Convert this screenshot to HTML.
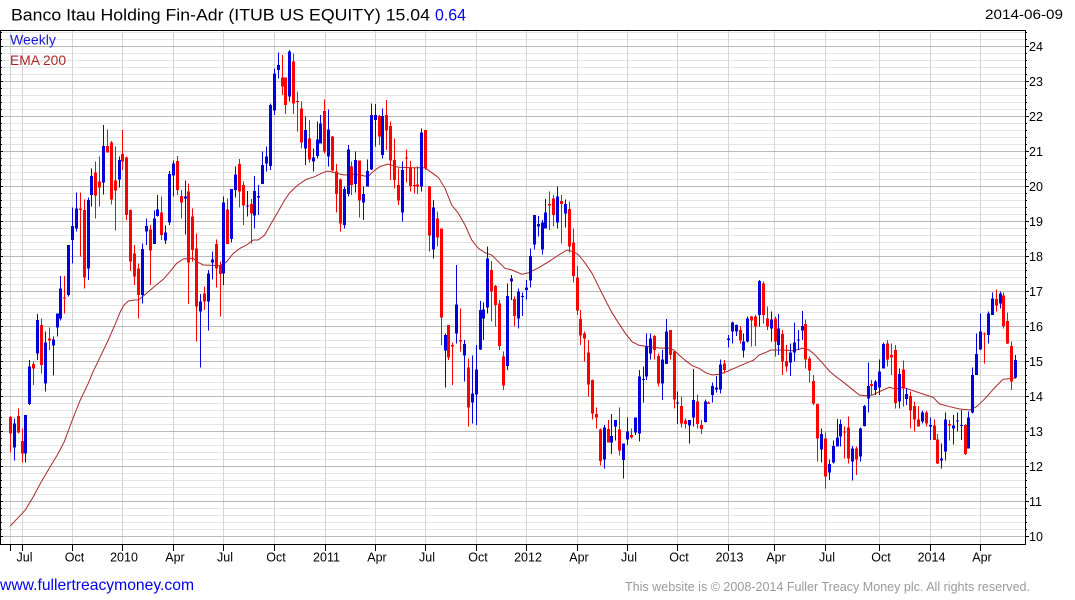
<!DOCTYPE html>
<html><head><meta charset="utf-8"><style>
html,body{margin:0;padding:0;background:#fff;width:1075px;height:600px;overflow:hidden}
svg{display:block;font-family:"Liberation Sans",Arial,sans-serif}
</style></head><body>
<svg width="1075" height="600" viewBox="0 0 1075 600" xmlns="http://www.w3.org/2000/svg">
<rect width="1075" height="600" fill="#fff"/>
<g shape-rendering="crispEdges" fill="none" stroke-width="1">
<path stroke="#e4e4e4" d="M1 529.5H1025M1 522.5H1025M1 515.5H1025M1 508.5H1025M1 494.5H1025M1 487.5H1025M1 480.5H1025M1 473.5H1025M1 459.5H1025M1 452.5H1025M1 445.5H1025M1 438.5H1025M1 424.5H1025M1 417.5H1025M1 410.5H1025M1 403.5H1025M1 389.5H1025M1 382.5H1025M1 375.5H1025M1 368.5H1025M1 354.5H1025M1 347.5H1025M1 340.5H1025M1 333.5H1025M1 319.5H1025M1 312.5H1025M1 305.5H1025M1 298.5H1025M1 284.5H1025M1 277.5H1025M1 270.5H1025M1 263.5H1025M1 249.5H1025M1 242.5H1025M1 235.5H1025M1 228.5H1025M1 214.5H1025M1 207.5H1025M1 200.5H1025M1 193.5H1025M1 179.5H1025M1 172.5H1025M1 165.5H1025M1 158.5H1025M1 144.5H1025M1 137.5H1025M1 130.5H1025M1 123.5H1025M1 109.5H1025M1 102.5H1025M1 95.5H1025M1 88.5H1025M1 74.5H1025M1 67.5H1025M1 60.5H1025M1 53.5H1025M1 39.5H1025M1 32.5H1025"/>
<path stroke="#d4d4d4" d="M10.5 31V544M22.5 31V544M72.5 31V544M122.5 31V544M173.5 31V544M223.5 31V544M274.5 31V544M325.5 31V544M375.5 31V544M425.5 31V544M476.5 31V544M526.5 31V544M577.5 31V544M627.5 31V544M677.5 31V544M728.5 31V544M774.5 31V544M825.5 31V544M879.5 31V544M930.5 31V544M980.5 31V544"/>
<path stroke="#bababa" d="M1 536.5H1025M1 501.5H1025M1 466.5H1025M1 431.5H1025M1 396.5H1025M1 361.5H1025M1 326.5H1025M1 291.5H1025M1 256.5H1025M1 221.5H1025M1 186.5H1025M1 151.5H1025M1 116.5H1025M1 81.5H1025M1 46.5H1025"/>
</g>
<polyline fill="none" stroke="#a82828" stroke-width="1" points="10.3,526 14.3,521.7 22.3,513.3 25.3,510 33.3,496.7 41.3,481.7 49.3,468.3 57.3,455 64.3,441.7 72.3,420 80.3,400 84.3,391.7 88.3,383.3 92.3,373.3 100.3,356.7 108.3,340 116.3,321.7 120.3,311.7 124,305 128.3,301 134.3,300 138.3,300 146.7,293.3 155,286 163.3,279.3 170,271.7 176.7,263.3 183.3,259 193.3,258.3 196.7,261.7 203.3,265 210,265.3 220,265.7 226.7,261.7 233.3,253.3 240,248.3 246.7,245 253.3,240 258,240 264.7,235 271.3,223.3 278,211.7 284.7,200 289.7,192.7 298,185 306.3,179.3 314.7,176.7 321.3,173.3 328,171 333,172.3 339.7,174 344.7,175 354.7,174.3 361.3,175.3 368,176.7 373,171.7 379.7,166.7 388,164 398.3,167.3 411.7,167.7 425,167.7 431.7,172.7 438.3,177.3 445,188.3 451.7,205 458.3,213.3 465,225 471.7,240 478.3,248.3 485,252.7 491.7,255 498.3,261.7 505,268.3 512,270 522,274.3 528.7,272.7 538.7,267.7 548.7,261.7 558.7,255 567,250 573.7,251.7 578.7,255 585.3,263.3 592,273.3 598.7,286.7 605.3,300 612,312.7 618.7,323.3 625.3,333.3 632,341.7 639,345.3 649,346.7 659,348 669,348.3 674,350 679,355 685.7,360.7 692.3,365.7 699,368.3 705.7,372.7 712.3,375 719,374.3 725.7,372 735.7,367.7 745.7,363.3 754,360 759,355 766,352.3 771,350 782.7,350 792.7,350.7 802.7,348.3 809.3,350 816,356 822.7,363.3 829.3,371 836,376.7 842.7,381.7 851,388.3 859.3,395 866,395.7 872.7,395 879.3,391.7 889.3,387.3 896,389 903,387.3 913,390.7 923,394 933,397.3 939.7,404 949.7,406.7 959.7,409 969.7,410 976.3,406.7 983,400.7 989.7,393.3 996.3,386 1003,379.3 1013,378.3 1016.3,377.7"/>
<g shape-rendering="crispEdges">
<path fill="none" stroke="#ff0000" stroke-width="1" d="M10.5 416V452.7M18.5 408.3V433.3M22.5 428.3V462.7M33.5 361.7V385M41.5 318.3V373.3M49.5 327.3V350M64.5 276V313.3M80.5 192.7V256.7M84.5 199.3V288.3M95.5 161.7V218.3M99.5 156.7V206.7M107.5 129.3V151.7M111.5 141V204.3M115.5 146.7V230.7M122.5 130V170M126.5 156.7V220M130.5 209.3V271M134.5 245V285M138.5 263.3V318.3M150.5 225V285M161.5 196.7V240M177.5 156V195M181.5 190V218.3M188.5 183.3V304M192.5 208.3V261.7M196.5 233.3V341.7M204.5 286.7V310M216.5 239.3V287.3M220.5 261.7V316.7M227.5 198.3V244M239.5 159V207.7M243.5 181.7V225M251.5 199V243.3M282.5 55V95M285.5 77.7V114M293.5 53.3V114M297.5 91.7V131.7M301.5 101.7V148.3M309.5 120V162.7M324.5 99.3V153.3M332.5 136V171.7M336.5 164V212.7M340.5 178.3V231.7M351.5 161.7V195M359.5 160.7V217.3M379.5 115V145M386.5 100V150M390.5 121.7V180M394.5 138.3V188.3M398.5 168.3V205M406.5 149.3V182.7M410.5 161V191.7M414.5 167.3V193.3M417.5 166.7V194M425.5 130V170M429.5 186V251.7M437.5 211.7V246.7M441.5 228.3V345M448.5 325V360M452.5 342.7V385M460.5 308.3V351.7M468.5 358.3V426.7M491.5 261V321.7M495.5 285V326.7M499.5 300V350M503.5 351.7V390M514.5 296.7V326M549.5 191.7V230M553.5 195V226.7M561.5 195V243.3M569.5 201.7V252.7M573.5 228.3V282.7M577.5 266V315M580.5 310V345M584.5 331.7V361.7M588.5 340V396.7M592.5 379.3V419.3M596.5 407.7V428.3M600.5 428.3V465.7M608.5 420V441.7M619.5 407.3V455.7M631.5 428.3V438.3M654.5 335V359.3M658.5 353.3V386.7M670.5 330V359.3M674.5 351V408.3M681.5 396.7V427.3M685.5 418.3V428.3M697.5 394.3V428.3M701.5 420V434M708.5 401.7V404M724.5 360V373.3M740.5 326V343.3M751.5 316V346.7M755.5 315V346M763.5 281.7V323.3M767.5 306.7V330M775.5 316.7V356.7M782.5 330V375M786.5 345V371.7M805.5 319.3V368.3M809.5 356.7V382.7M813.5 375V405M817.5 403.3V461.7M825.5 432.7V488.3M844.5 426.7V458.3M848.5 416.7V463.3M856.5 446.7V475M871.5 380V395M887.5 340V366.7M891.5 343.3V375M895.5 345V408.3M903.5 360.7V406.7M910.5 391.7V428.3M914.5 401.7V431.7M918.5 406V426.7M926.5 411V426.7M934.5 419.3V440M937.5 434V464M949.5 420V440.7M965.5 424V455M984.5 332.7V363.3M996.5 289.3V311.7M1003.5 292.3V328.3M1007.5 312.3V344M1011.5 341.7V390"/>
<path fill="#ff0000" d="M9 417h3V433.3h-3zM17 416h3V432.7h-3zM21 441h3V453.3h-3zM32 364h3V368.7h-3zM40 325h3V365h-3zM48 338.3h3V340.7h-3zM63 297.7h3V298.7h-3zM79 208.7h3V210h-3zM83 210h3V277.7h-3zM94 172.7h3V195.7h-3zM98 181.7h3V187.7h-3zM106 146h3V152.3h-3zM110 142.3h3V199.3h-3zM114 180.7h3V190.7h-3zM121 154h3V161.7h-3zM125 157.3h3V215h-3zM129 210h3V261.7h-3zM133 253.3h3V276.7h-3zM137 268.3h3V295h-3zM149 229.3h3V250.7h-3zM160 212.3h3V235h-3zM176 161h3V190h-3zM180 196h3V202.7h-3zM187 191.7h3V262.7h-3zM191 216.7h3V250h-3zM195 248.3h3V306.7h-3zM203 293.3h3V301.7h-3zM215 244h3V268.3h-3zM219 265h3V274h-3zM226 209.3h3V244h-3zM238 164h3V191.7h-3zM242 185h3V205.7h-3zM250 204h3V213.3h-3zM281 77.7h3V86.7h-3zM284 77.7h3V105h-3zM292 61.7h3V103.3h-3zM296 101h3V102h-3zM300 108.3h3V142.7h-3zM308 138.3h3V159.3h-3zM323 111h3V151.7h-3zM331 136.7h3V170.7h-3zM335 171.7h3V194h-3zM339 179.3h3V223.3h-3zM350 166.7h3V185h-3zM358 160.7h3V200.7h-3zM378 116h3V136.7h-3zM385 115h3V130.7h-3zM389 126h3V160.7h-3zM393 160h3V180h-3zM397 185h3V200.7h-3zM405 157.7h3V158.7h-3zM409 167.3h3V186h-3zM413 185h3V186h-3zM416 184.3h3V186.7h-3zM424 130h3V168.3h-3zM428 186.7h3V235.7h-3zM436 218.3h3V237.7h-3zM440 228.3h3V317.3h-3zM447 325h3V357.3h-3zM451 345h3V346.7h-3zM459 340h3V341.7h-3zM467 367.7h3V407.3h-3zM490 270h3V291.7h-3zM494 286h3V305h-3zM498 303.3h3V346h-3zM502 356.7h3V385.7h-3zM513 299h3V316h-3zM548 204h3V205.7h-3zM552 198.3h3V215h-3zM560 201h3V204h-3zM568 209h3V246.7h-3zM572 242.7h3V276h-3zM576 277.3h3V310.7h-3zM579 319h3V335.7h-3zM583 333.3h3V338.3h-3zM587 352.3h3V384.3h-3zM591 380h3V413.3h-3zM595 414h3V417.7h-3zM599 429.3h3V461h-3zM607 429h3V442.7h-3zM618 429.3h3V450.7h-3zM630 435h3V437.7h-3zM653 336h3V350h-3zM657 356h3V383.3h-3zM669 330h3V355h-3zM673 351.7h3V399.3h-3zM680 406h3V423.3h-3zM684 420.7h3V424h-3zM696 401.7h3V424h-3zM700 425h3V429h-3zM707 402.3h3V404h-3zM723 363.3h3V370h-3zM739 330h3V340.7h-3zM750 316.7h3V320.7h-3zM754 316.7h3V326.7h-3zM762 283.3h3V315h-3zM766 318.3h3V326.7h-3zM774 318.3h3V341.7h-3zM781 334h3V361.7h-3zM785 361h3V366.7h-3zM804 324h3V359.3h-3zM808 358.3h3V370.7h-3zM812 381h3V403.3h-3zM816 404h3V438.3h-3zM824 438.3h3V476.7h-3zM843 431.7h3V432.7h-3zM847 427.7h3V458.3h-3zM855 448.3h3V459.3h-3zM870 384h3V386h-3zM886 343.3h3V359.3h-3zM890 355h3V357.3h-3zM894 350h3V403h-3zM902 369.3h3V388.3h-3zM909 396h3V410.7h-3zM913 406h3V419.3h-3zM917 419.3h3V426.7h-3zM925 412.7h3V423.3h-3zM933 425.7h3V440h-3zM936 439.3h3V463.3h-3zM948 424h3V425.7h-3zM964 425h3V454h-3zM983 333.3h3V334.3h-3zM995 299h3V305.7h-3zM1002 295.7h3V326h-3zM1006 321h3V343.3h-3zM1010 346h3V381.7h-3z"/>
<path fill="none" stroke="#0000dc" stroke-width="1" d="M14.5 418.3V460.7M25.5 415V462.7M29.5 360V405M37.5 314V360M45.5 331.7V391.7M53.5 336.7V375.7M57.5 313.3V336.7M60.5 276V320.7M68.5 245V296.7M72.5 207.7V263.3M76.5 192.7V231.7M88.5 197.3V280M91.5 168.3V206.7M103.5 125V194.3M119.5 156.7V187.3M142.5 243.3V303.3M146.5 218.3V245M154.5 210.7V244M157.5 195V216.7M165.5 225.7V244M169.5 171V225M173.5 160.7V196.7M185.5 180.7V234.3M200.5 294V367.7M208.5 270V330.7M212.5 251.7V279.3M223.5 196.7V285M231.5 189V242.3M235.5 166.7V197.3M247.5 191V216.7M254.5 176V228.3M258.5 185V215M262.5 151.7V184M266.5 146.7V171.7M270.5 103.3V170M274.5 68.3V115M278.5 52.3V78.3M289.5 50V101.7M305.5 116.7V165M313.5 148.3V171.7M317.5 121.7V158.3M320.5 115V143.3M328.5 109.3V166.7M344.5 186.7V228.3M348.5 145V196.7M355.5 151.7V192.7M363.5 186.7V220M367.5 159.3V186.7M371.5 103.3V170M375.5 104V146.7M382.5 108.3V158.3M402.5 161.7V221.7M421.5 128.3V191.7M433.5 200V258.3M445.5 333.3V387.7M456.5 265V343.3M464.5 340V381.7M472.5 355.7V423.3M476.5 345V425M480.5 301V350M483.5 302.3V340M487.5 246.7V313.3M507.5 283.3V370M511.5 275V300M518.5 288.3V328.3M522.5 292.7V316M526.5 280V299.3M530.5 248.3V287.3M534.5 215V249.3M538.5 216V236.7M542.5 220V254.3M545.5 199V228.3M557.5 186.7V228.3M565.5 199.3V227.3M604.5 425V468.3M611.5 414V454M615.5 420V440.7M623.5 443.3V478.3M627.5 417.3V445M635.5 417.3V435M639.5 370V441.7M643.5 366.7V402.7M646.5 333.3V380M650.5 333.3V359.3M662.5 350V400M666.5 319V364M677.5 391.7V424M689.5 420V443.3M693.5 369V426.7M705.5 399.3V422.7M712.5 382.7V402.7M716.5 376V392.7M720.5 359.3V393.3M728.5 335V347.3M732.5 321.7V343.3M736.5 324.3V336M743.5 333.3V357.7M747.5 316.7V342.7M759.5 280V326.7M771.5 311.7V341.7M778.5 314V355M790.5 343.3V376M794.5 322.3V361.7M798.5 330V350M802.5 311V340M821.5 428.3V462.7M829.5 459.3V480M833.5 440.7V463.3M837.5 419V446.7M840.5 419.3V446.7M852.5 446V480.7M860.5 427.3V461.7M864.5 405V426.7M868.5 362.7V412.7M875.5 380V395M879.5 359.3V395M883.5 342.7V368.3M899.5 368.3V408.3M906.5 388.3V405M922.5 410.7V423.3M930.5 417.3V440M941.5 443.3V468.3M945.5 412.7V460.7M953.5 415V444.3M957.5 412.7V431.7M961.5 410V440M968.5 411.7V448.3M972.5 367.3V413.3M976.5 333.3V375M980.5 313.3V350M988.5 311.7V343.3M992.5 292.3V315M1000.5 291.7V308.3M1015.5 355V378.3"/>
<path fill="#0000dc" d="M13 423.3h3V447.3h-3zM24 415h3V453.3h-3zM28 366.7h3V404h-3zM36 320h3V353.3h-3zM44 342.3h3V383.3h-3zM52 339.3h3V345.7h-3zM56 313.3h3V327.3h-3zM59 288.3h3V318.3h-3zM67 245h3V295h-3zM71 226h3V240h-3zM75 208.3h3V228.3h-3zM87 200h3V268.7h-3zM90 176h3V195h-3zM102 146h3V182.7h-3zM118 160h3V179.3h-3zM141 249h3V295h-3zM145 226h3V231.7h-3zM153 218.3h3V244h-3zM156 209.3h3V216h-3zM164 232.3h3V240.7h-3zM168 174h3V222.7h-3zM172 163.3h3V175.7h-3zM184 196.7h3V198.7h-3zM199 301.7h3V311.7h-3zM207 273.3h3V301.7h-3zM211 259.3h3V262.7h-3zM222 202.3h3V273.3h-3zM230 189h3V239h-3zM234 174.3h3V190h-3zM246 205.7h3V206.7h-3zM253 191h3V215.7h-3zM257 196h3V197.5h-3zM261 165h3V184h-3zM265 156.7h3V163.3h-3zM269 105h3V166h-3zM273 73.3h3V110.7h-3zM277 65h3V70h-3zM288 51.7h3V96.7h-3zM304 130h3V148.3h-3zM312 157.3h3V161.7h-3zM316 139.3h3V156h-3zM319 123.3h3V143.3h-3zM327 129.3h3V156.7h-3zM343 189h3V225h-3zM347 149.3h3V194h-3zM354 160h3V184h-3zM362 194h3V202.7h-3zM366 171h3V186.7h-3zM370 115h3V169.3h-3zM374 115h3V120h-3zM381 116h3V155h-3zM401 170h3V212.7h-3zM420 132.7h3V186.7h-3zM432 207.7h3V249.3h-3zM444 335h3V350.7h-3zM455 304.3h3V333.3h-3zM463 344h3V355.7h-3zM471 393.3h3V402.7h-3zM475 369.3h3V394.3h-3zM479 310h3V349.3h-3zM482 309.3h3V318.3h-3zM486 258.3h3V307.7h-3zM506 296h3V366h-3zM510 278.3h3V281.7h-3zM517 291.7h3V318.3h-3zM521 296h3V297h-3zM525 287.7h3V290h-3zM529 256h3V280.7h-3zM533 215h3V244.3h-3zM537 224h3V226.7h-3zM541 222.7h3V249.3h-3zM544 212.3h3V228.3h-3zM556 196.7h3V222.7h-3zM564 204h3V213.3h-3zM603 427.3h3V459.3h-3zM610 436h3V442.7h-3zM614 420h3V426.7h-3zM622 443.3h3V460h-3zM626 431.7h3V439.3h-3zM634 417.3h3V432.7h-3zM638 376.7h3V433.3h-3zM642 379h3V380h-3zM645 346h3V376.7h-3zM649 338.3h3V353.3h-3zM661 359.3h3V383.3h-3zM665 331.7h3V364h-3zM676 402.3h3V403.3h-3zM688 420h3V425.7h-3zM692 400h3V417.7h-3zM704 401.7h3V422h-3zM711 386h3V395h-3zM715 387.7h3V389.3h-3zM719 364.3h3V389.3h-3zM727 338.3h3V340h-3zM731 322.3h3V331.7h-3zM735 325h3V331.7h-3zM742 341.7h3V350.7h-3zM746 318.3h3V341.7h-3zM758 281h3V315h-3zM770 319.3h3V328.3h-3zM777 328.3h3V345h-3zM789 352.7h3V362.7h-3zM793 342.3h3V352.7h-3zM797 339.3h3V340.7h-3zM801 326h3V330.7h-3zM820 434h3V449.3h-3zM828 464h3V472.3h-3zM832 446h3V462.7h-3zM836 437.7h3V446.7h-3zM839 424h3V436.7h-3zM851 448.3h3V461.7h-3zM859 428.3h3V456.7h-3zM863 406h3V426h-3zM867 386h3V398.3h-3zM874 381.7h3V390h-3zM878 371.7h3V387.3h-3zM882 344h3V368.3h-3zM898 374h3V401.7h-3zM905 394h3V399h-3zM921 412.7h3V421.7h-3zM929 425h3V426.7h-3zM940 458.3h3V460.7h-3zM944 419.3h3V451.7h-3zM952 425.7h3V428.3h-3zM956 420.7h3V421.7h-3zM960 425h3V426h-3zM967 417.7h3V448.3h-3zM971 375h3V412.7h-3zM975 354h3V375h-3zM979 331.7h3V349.3h-3zM987 313.3h3V335h-3zM991 298.3h3V315h-3zM999 293.3h3V303.3h-3zM1014 360h3V377.3h-3z"/>
</g>
<g shape-rendering="crispEdges" fill="none" stroke="#000" stroke-width="1">
<path d="M0.5 30.5H1025.5V544.5H0.5Z"/>
<path d="M1025 536.5h4M1025 501.5h4M1025 466.5h4M1025 431.5h4M1025 396.5h4M1025 361.5h4M1025 326.5h4M1025 291.5h4M1025 256.5h4M1025 221.5h4M1025 186.5h4M1025 151.5h4M1025 116.5h4M1025 81.5h4M1025 46.5h4"/>
<path d="M1025 529.5h2M1025 522.5h2M1025 515.5h2M1025 508.5h2M1025 494.5h2M1025 487.5h2M1025 480.5h2M1025 473.5h2M1025 459.5h2M1025 452.5h2M1025 445.5h2M1025 438.5h2M1025 424.5h2M1025 417.5h2M1025 410.5h2M1025 403.5h2M1025 389.5h2M1025 382.5h2M1025 375.5h2M1025 368.5h2M1025 354.5h2M1025 347.5h2M1025 340.5h2M1025 333.5h2M1025 319.5h2M1025 312.5h2M1025 305.5h2M1025 298.5h2M1025 284.5h2M1025 277.5h2M1025 270.5h2M1025 263.5h2M1025 249.5h2M1025 242.5h2M1025 235.5h2M1025 228.5h2M1025 214.5h2M1025 207.5h2M1025 200.5h2M1025 193.5h2M1025 179.5h2M1025 172.5h2M1025 165.5h2M1025 158.5h2M1025 144.5h2M1025 137.5h2M1025 130.5h2M1025 123.5h2M1025 109.5h2M1025 102.5h2M1025 95.5h2M1025 88.5h2M1025 74.5h2M1025 67.5h2M1025 60.5h2M1025 53.5h2M1025 39.5h2M1025 32.5h2"/>
<path d="M0 536.5h3M0 501.5h3M0 466.5h3M0 431.5h3M0 396.5h3M0 361.5h3M0 326.5h3M0 291.5h3M0 256.5h3M0 221.5h3M0 186.5h3M0 151.5h3M0 116.5h3M0 81.5h3M0 46.5h3M0 529.5h2M0 522.5h2M0 515.5h2M0 508.5h2M0 494.5h2M0 487.5h2M0 480.5h2M0 473.5h2M0 459.5h2M0 452.5h2M0 445.5h2M0 438.5h2M0 424.5h2M0 417.5h2M0 410.5h2M0 403.5h2M0 389.5h2M0 382.5h2M0 375.5h2M0 368.5h2M0 354.5h2M0 347.5h2M0 340.5h2M0 333.5h2M0 319.5h2M0 312.5h2M0 305.5h2M0 298.5h2M0 284.5h2M0 277.5h2M0 270.5h2M0 263.5h2M0 249.5h2M0 242.5h2M0 235.5h2M0 228.5h2M0 214.5h2M0 207.5h2M0 200.5h2M0 193.5h2M0 179.5h2M0 172.5h2M0 165.5h2M0 158.5h2M0 144.5h2M0 137.5h2M0 130.5h2M0 123.5h2M0 109.5h2M0 102.5h2M0 95.5h2M0 88.5h2M0 74.5h2M0 67.5h2M0 60.5h2M0 53.5h2M0 39.5h2M0 32.5h2"/>
<path d="M10.5 544V551M22.5 544V551M72.5 544V551M122.5 544V551M173.5 544V551M223.5 544V551M274.5 544V551M325.5 544V551M375.5 544V551M425.5 544V551M476.5 544V551M526.5 544V551M577.5 544V551M627.5 544V551M677.5 544V551M728.5 544V551M774.5 544V551M825.5 544V551M879.5 544V551M930.5 544V551M980.5 544V551"/>
</g>
<text x="11" y="20.7" font-size="16.5" fill="#000" textLength="419" lengthAdjust="spacingAndGlyphs">Banco Itau Holding Fin-Adr (ITUB US EQUITY) 15.04</text>
<text x="435" y="20.7" font-size="16.5" fill="#0000ee" textLength="31" lengthAdjust="spacingAndGlyphs">0.64</text>
<text x="985" y="19" font-size="13.5" fill="#000" textLength="78" lengthAdjust="spacingAndGlyphs">2014-06-09</text>
<text x="10" y="44.3" font-size="14" fill="#1a1ad0" textLength="46" lengthAdjust="spacingAndGlyphs">Weekly</text>
<text x="10" y="65" font-size="14" fill="#a82828" textLength="56" lengthAdjust="spacingAndGlyphs">EMA 200</text>
<g font-size="12.5" fill="#000">
<text x="1029" y="541">10</text><text x="1029" y="506">11</text><text x="1029" y="471">12</text><text x="1029" y="436">13</text><text x="1029" y="401">14</text><text x="1029" y="366">15</text><text x="1029" y="331">16</text><text x="1029" y="296">17</text><text x="1029" y="261">18</text><text x="1029" y="226">19</text><text x="1029" y="191">20</text><text x="1029" y="156">21</text><text x="1029" y="121">22</text><text x="1029" y="86">23</text><text x="1029" y="51">24</text>
</g>
<g font-size="12.5" fill="#000" text-anchor="middle">
<text x="24.5" y="561.5">Jul</text><text x="74.5" y="561.5">Oct</text><text x="124" y="561.5">2010</text><text x="175" y="561.5">Apr</text><text x="225" y="561.5">Jul</text><text x="276" y="561.5">Oct</text><text x="326.5" y="561.5">2011</text><text x="377" y="561.5">Apr</text><text x="427" y="561.5">Jul</text><text x="478" y="561.5">Oct</text><text x="528" y="561.5">2012</text><text x="579" y="561.5">Apr</text><text x="629" y="561.5">Jul</text><text x="679" y="561.5">Oct</text><text x="729.5" y="561.5">2013</text><text x="776" y="561.5">Apr</text><text x="827" y="561.5">Jul</text><text x="881" y="561.5">Oct</text><text x="931.5" y="561.5">2014</text><text x="982" y="561.5">Apr</text>
</g>
<text x="0" y="590" font-size="16" fill="#0000ee" textLength="194" lengthAdjust="spacingAndGlyphs">www.fullertreacymoney.com</text>
<text x="625" y="591" font-size="12.5" fill="#9a9a9a" textLength="405" lengthAdjust="spacingAndGlyphs">This website is © 2008-2014 Fuller Treacy Money plc. All rights reserved.</text>
</svg>
</body></html>
